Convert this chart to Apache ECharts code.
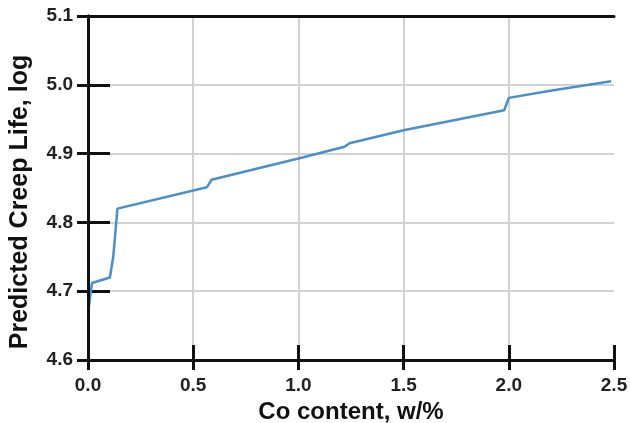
<!DOCTYPE html>
<html>
<head>
<meta charset="utf-8">
<script src="https://cdn.jsdelivr.net/npm/echarts@6/dist/echarts.min.js"></script>
<style>
  html, body { margin: 0; padding: 0; background: #fff; }
  #chart { width: 630px; height: 423px; }
</style>
</head>
<body>
<div id="chart"></div>
<script>
// Co content (w/%) and predicted creep life (log)
const coContent = [0.0, 0.019, 0.104, 0.12, 0.14, 0.565, 0.587, 1.0, 1.219, 1.243, 1.5, 1.978, 2.0, 2.19, 2.486];
const creepLife = [4.668, 4.712, 4.72, 4.75, 4.82, 4.851, 4.862, 4.893, 4.910, 4.915, 4.934, 4.963, 4.981, 4.991, 5.005];

const xTicks = [0.0, 0.5, 1.0, 1.5, 2.0, 2.5];
const yTicks = [4.6, 4.7, 4.8, 4.9, 5.0, 5.1];

const FONT = '"Liberation Sans", Arial, sans-serif';
const INK = '#111';
const GRID_GRAY = '#d2d2d2';

const chart = echarts.init(document.getElementById('chart'));

const baseX = {
  type: 'value', min: xTicks[0], max: xTicks[xTicks.length - 1], interval: 0.5
};
const baseY = {
  type: 'value', min: yTicks[0], max: yTicks[yTicks.length - 1], interval: 0.1
};
const hidden = {
  axisLine: { show: false }, axisTick: { show: false },
  axisLabel: { show: false }, splitLine: { show: false }
};
const frameLine = { show: true, lineStyle: { color: INK, width: 3 } };

chart.setOption({
  animation: false,
  grid: {
    left: 88, right: 16, top: 16, bottom: 63,
    containLabel: false, outerBoundsMode: 'none'
  },
  xAxis: [
    // main bottom axis: labels, inward ticks, grid lines
    Object.assign({}, baseX, {
      position: 'bottom',
      name: 'Co content, w/%',
      nameLocation: 'middle',
      nameGap: 38,
      nameTextStyle: { fontFamily: FONT, fontSize: 24, fontWeight: 'bold', color: INK },
      axisLine: { show: true, lineStyle: { color: INK, width: 3 } },
      axisTick: { show: true, inside: true, length: 15, lineStyle: { color: INK, width: 3 } },
      axisLabel: {
        margin: 16, fontFamily: FONT, fontSize: 19, fontWeight: 'bold', color: '#222',
        formatter: v => v.toFixed(1)
      },
      splitLine: { show: true, showMinLine: false, showMaxLine: false,
                   lineStyle: { color: GRID_GRAY, width: 2 } }
    }),
    // short outward ticks below the bottom axis
    Object.assign({}, baseX, hidden, {
      position: 'bottom',
      axisTick: { show: true, inside: false, length: 10, lineStyle: { color: INK, width: 3 } }
    }),
    // top frame edge
    Object.assign({}, baseX, hidden, { position: 'top', axisLine: frameLine, z: 10 })
  ],
  yAxis: [
    // main left axis: labels, inward ticks, grid lines
    Object.assign({}, baseY, {
      position: 'left',
      name: 'Predicted Creep Life, log',
      nameLocation: 'middle',
      nameGap: 55,
      nameTextStyle: { fontFamily: FONT, fontSize: 25, fontWeight: 'bold', color: INK,
                       padding: [0, 28, 0, 0] },
      axisLine: { show: true, lineStyle: { color: INK, width: 3 } },
      axisTick: { show: true, inside: true, length: 22, lineStyle: { color: INK, width: 3 } },
      axisLabel: {
        margin: 15, fontFamily: FONT, fontSize: 19, fontWeight: 'bold', color: '#222',
        formatter: v => v.toFixed(1)
      },
      splitLine: { show: true, showMinLine: false, showMaxLine: false,
                   lineStyle: { color: GRID_GRAY, width: 2 } }
    }),
    // short outward ticks left of the axis
    Object.assign({}, baseY, hidden, {
      position: 'left',
      axisTick: { show: true, inside: false, length: 11, lineStyle: { color: INK, width: 3 } }
    }),
    // right frame edge
    Object.assign({}, baseY, hidden, { position: 'right', axisLine: frameLine, z: 10 })
  ],
  series: [{
    type: 'line',
    xAxisIndex: 0,
    yAxisIndex: 0,
    data: coContent.map((x, i) => [x, creepLife[i]]),
    showSymbol: false,
    lineStyle: { color: '#4a8fc8', width: 2.5 },
    z: 5
  }]
});
</script>
</body>
</html>
